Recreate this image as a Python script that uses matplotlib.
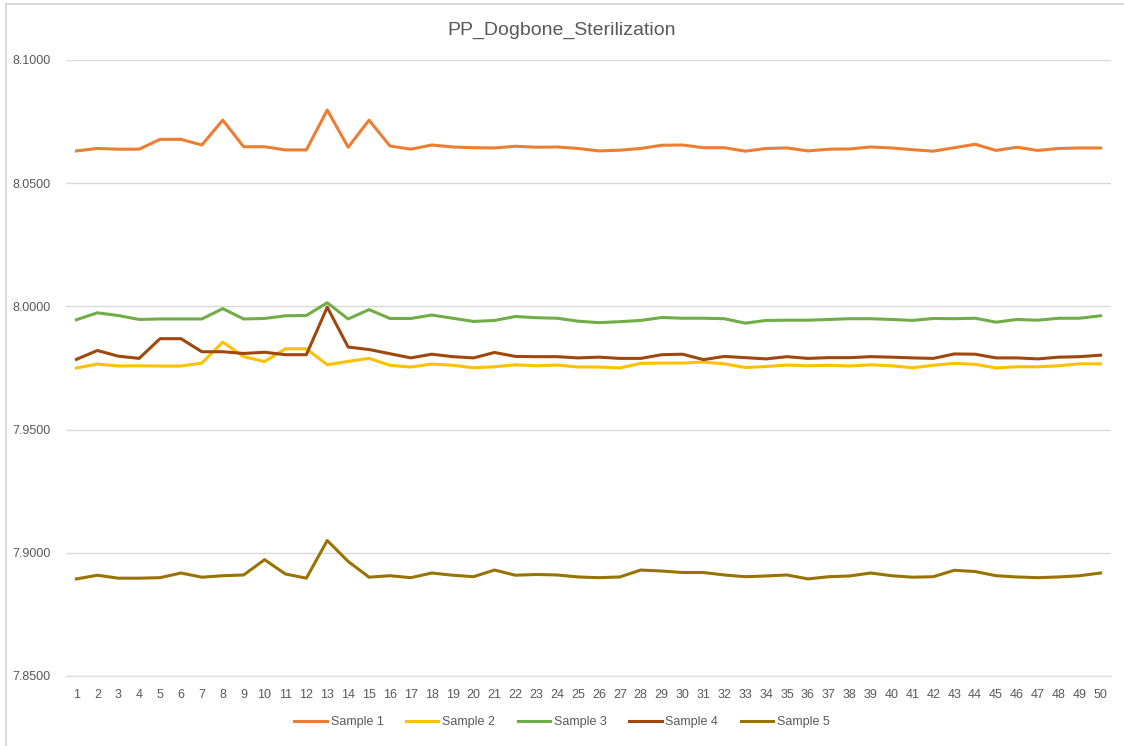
import matplotlib
matplotlib.use("Agg")
from matplotlib import pyplot as plt
from matplotlib.lines import Line2D
from matplotlib.ticker import FormatStrFormatter

plt.rcParams['font.family'] = ['Liberation Sans', 'DejaVu Sans']

# x categories
samples = list(range(1, 51))

# series values
sample1 = [8.0631, 8.0641, 8.0638, 8.0638, 8.0678, 8.0678, 8.0655, 8.0756, 8.0648, 8.0648,
           8.0635, 8.0635, 8.0797, 8.0646, 8.0756, 8.0651, 8.0638, 8.0655, 8.0647, 8.0644,
           8.0643, 8.0650, 8.0646, 8.0647, 8.0641, 8.0631, 8.0634, 8.0641, 8.0654, 8.0655,
           8.0644, 8.0644, 8.0630, 8.0641, 8.0643, 8.0631, 8.0638, 8.0639, 8.0647, 8.0643,
           8.0636, 8.0630, 8.0644, 8.0658, 8.0633, 8.0646, 8.0633, 8.0641, 8.0643, 8.0643]
sample2 = [7.9750, 7.9766, 7.9758, 7.9759, 7.9758, 7.9758, 7.9770, 7.9855, 7.9796, 7.9776,
           7.9828, 7.9828, 7.9763, 7.9777, 7.9789, 7.9761, 7.9754, 7.9766, 7.9761, 7.9751,
           7.9755, 7.9763, 7.9759, 7.9762, 7.9754, 7.9754, 7.9750, 7.9769, 7.9770, 7.9770,
           7.9774, 7.9767, 7.9752, 7.9756, 7.9762, 7.9759, 7.9761, 7.9758, 7.9763, 7.9759,
           7.9751, 7.9761, 7.9769, 7.9765, 7.9750, 7.9755, 7.9755, 7.9759, 7.9767, 7.9767]
sample3 = [7.9946, 7.9974, 7.9963, 7.9947, 7.9949, 7.9949, 7.9949, 7.9991, 7.9949, 7.9951,
           7.9962, 7.9963, 8.0015, 7.9949, 7.9987, 7.9951, 7.9951, 7.9965, 7.9952, 7.9939,
           7.9943, 7.9959, 7.9954, 7.9952, 7.9940, 7.9934, 7.9938, 7.9943, 7.9955, 7.9952,
           7.9952, 7.9950, 7.9932, 7.9943, 7.9944, 7.9944, 7.9947, 7.9950, 7.9950, 7.9947,
           7.9943, 7.9951, 7.9950, 7.9952, 7.9936, 7.9947, 7.9944, 7.9952, 7.9952, 7.9962]
sample4 = [7.9785, 7.9821, 7.9798, 7.9789, 7.9869, 7.9869, 7.9816, 7.9816, 7.9809, 7.9814,
           7.9804, 7.9804, 7.9997, 7.9835, 7.9825, 7.9808, 7.9791, 7.9806, 7.9796, 7.9791,
           7.9813, 7.9797, 7.9796, 7.9796, 7.9791, 7.9794, 7.9789, 7.9789, 7.9804, 7.9806,
           7.9784, 7.9797, 7.9792, 7.9787, 7.9796, 7.9789, 7.9792, 7.9792, 7.9796, 7.9794,
           7.9791, 7.9789, 7.9807, 7.9806, 7.9791, 7.9791, 7.9787, 7.9794, 7.9796, 7.9802]
sample5 = [7.8894, 7.8909, 7.8897, 7.8897, 7.8899, 7.8918, 7.8901, 7.8907, 7.8910, 7.8972,
           7.8914, 7.8897, 7.9050, 7.8965, 7.8901, 7.8907, 7.8899, 7.8918, 7.8909, 7.8903,
           7.8930, 7.8909, 7.8912, 7.8910, 7.8902, 7.8899, 7.8902, 7.8930, 7.8926, 7.8920,
           7.8920, 7.8910, 7.8903, 7.8906, 7.8910, 7.8894, 7.8903, 7.8906, 7.8918, 7.8907,
           7.8901, 7.8903, 7.8929, 7.8924, 7.8907, 7.8902, 7.8899, 7.8902, 7.8907, 7.8918]

series = [("Sample 1", sample1, "#ED7D31"),
          ("Sample 2", sample2, "#FFC000"),
          ("Sample 3", sample3, "#70AD47"),
          ("Sample 4", sample4, "#9E480E"),
          ("Sample 5", sample5, "#997300")]

W, H = 1124, 746
fig = plt.figure(figsize=(W / 100, H / 100), dpi=100)
ax = fig.add_axes([66 / W, 1 - 676 / H, (1111 - 66) / W, (676 - 60) / H])

# chart area border (only top and left edges are visible in the screenshot)
fig.add_artist(Line2D([6 / W, 1], [1 - 4 / H, 1 - 4 / H], color="#D9D9D9", linewidth=1.5))
fig.add_artist(Line2D([6 / W, 6 / W], [0, 1 - 4 / H], color="#D9D9D9", linewidth=1.5))

for name, vals, col in series:
    ax.plot(samples, vals, color=col, linewidth=2.2, label=name, solid_joinstyle="round")

ax.set_xlim(0.5, 50.5)
ax.set_ylim(7.85, 8.10)
ax.set_yticks([7.85, 7.90, 7.95, 8.00, 8.05, 8.10])
ax.yaxis.set_major_formatter(FormatStrFormatter('%.4f'))
ax.set_xticks(samples)
ax.grid(axis="y", color="#D9D9D9", linewidth=1)
ax.set_axisbelow(True)
for s in ["top", "right", "left"]:
    ax.spines[s].set_visible(False)
ax.spines["bottom"].set_color("#D9D9D9")
ax.tick_params(axis="both", length=0, labelsize=9, labelcolor="#595959")
ax.tick_params(axis="x", pad=9)
ax.tick_params(axis="y", pad=11)

fig.text(0.5, 1 - 30 / H, "PP_Dogbone_Sterilization", ha="center", va="center",
         fontsize=14, color="#595959")

fig.legend(loc="center", bbox_to_anchor=(0.5, 1 - 722 / H), ncol=5, frameon=False,
           fontsize=9, labelcolor="#595959", handlelength=2.6, handletextpad=0.3,
           columnspacing=1.8)

fig.savefig("out.png", dpi=100)
